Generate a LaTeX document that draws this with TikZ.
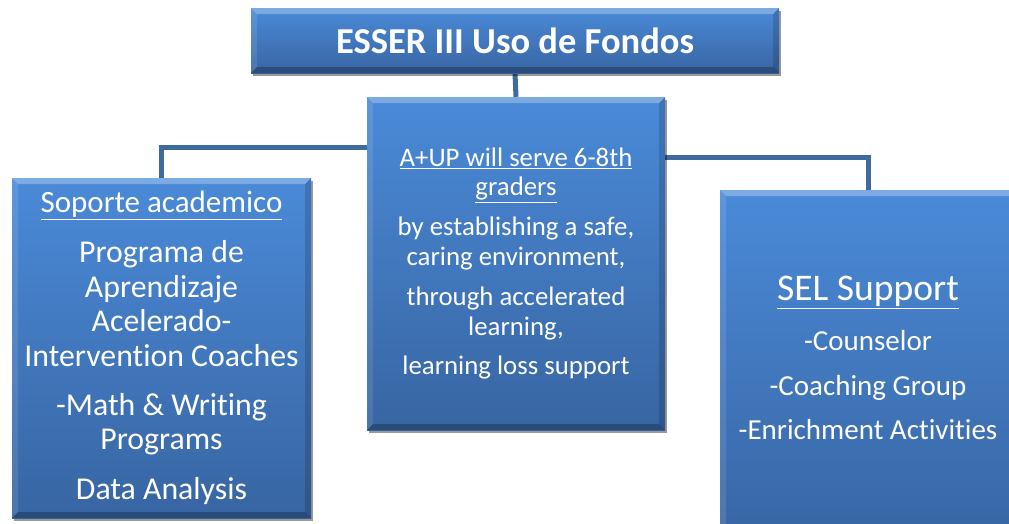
\documentclass[tikz,border=0pt]{standalone}
\usepackage{fontspec}
\setmainfont{Carlito}[Ligatures=NoCommon]
\usetikzlibrary{shadows,backgrounds}
\definecolor{boxtop}{RGB}{74,138,216}
\definecolor{boxbot}{RGB}{56,101,162}
\definecolor{conncol}{RGB}{62,106,156}
\newcommand{\fs}[2]{\fontsize{#1}{#2}\selectfont}
\tikzset{
  bevelbox/.style={draw=none, top color=boxtop, bottom color=boxbot, text=white,
    align=center, inner sep=0pt,
    drop shadow={shadow xshift=2pt, shadow yshift=-3pt, opacity=0.4, fill=black},
    path picture={
      \fill[white,opacity=0.28] (path picture bounding box.north west) -- (path picture bounding box.north east)
        -- ([xshift=-6pt,yshift=-6pt]path picture bounding box.north east)
        -- ([xshift=6pt,yshift=-6pt]path picture bounding box.north west) -- cycle;
      \fill[white,opacity=0.10] (path picture bounding box.north west) -- ([xshift=6pt,yshift=-6pt]path picture bounding box.north west)
        -- ([xshift=6pt,yshift=6pt]path picture bounding box.south west) -- (path picture bounding box.south west) -- cycle;
      \fill[black,opacity=0.15] (path picture bounding box.north east) -- ([xshift=-6pt,yshift=-6pt]path picture bounding box.north east)
        -- ([xshift=-6pt,yshift=6pt]path picture bounding box.south east) -- (path picture bounding box.south east) -- cycle;
      \fill[black,opacity=0.25] (path picture bounding box.south west) -- ([xshift=6pt,yshift=6pt]path picture bounding box.south west)
        -- ([xshift=-6pt,yshift=6pt]path picture bounding box.south east) -- (path picture bounding box.south east) -- cycle;
    }},
  boxtext/.style={text=white, align=center, inner sep=0pt},
  link/.style={draw=conncol, line width=5pt}
}
\begin{document}
\begin{tikzpicture}[x=1pt,y=-1pt]
\useasboundingbox (0,0) rectangle (1009,523);
\clip (0,0) rectangle (1009,523);
\node[bevelbox, minimum width=528pt, minimum height=65pt, font=\fs{36.5}{40}\bfseries] (top) at (515,40.5)
  {ESSER III Uso de Fondos};
\node[bevelbox, minimum width=298pt, minimum height=333pt, font=\fs{26.8}{29.5}] (mid) at (516,263.5)
  {\underline{A+UP will serve 6-8th}\\\underline{graders}\\[10.5pt]
   by establishing a safe,\\caring environment,\\[11pt]
   through accelerated\\learning,\\[10pt]
   learning loss support};
\node[bevelbox, minimum width=299pt, minimum height=340pt, font=\fs{31.8}{34.7}] (left) at (161.5,348)
  {{\fs{31}{34.7}\underline{Soporte academico}}\\[15pt]
   Programa de\\Aprendizaje\\Acelerado-\\Intervention Coaches\\[14pt]
   -Math \& Writing\\Programs\\[15pt]
   Data Analysis};
\node[bevelbox, minimum width=296pt, minimum height=360pt] (right) at (868,370) {};
\node[boxtext, font=\fs{29}{35}] (righttext) at (868,358)
  {{\fs{37.6}{40}\underline{SEL Support}}\\[15pt]
   -Counselor\\[10pt]
   -Coaching Group\\[9pt]
   -Enrichment Activities};
\begin{scope}[on background layer]
\draw[link] (top.south) -- (mid.north);
\draw[link] ([yshift=-51pt]mid.north west) -| (left.north);
\draw[link] ([yshift=-61pt]mid.north east) -| (right.north);
\end{scope}
\end{tikzpicture}
\end{document}
